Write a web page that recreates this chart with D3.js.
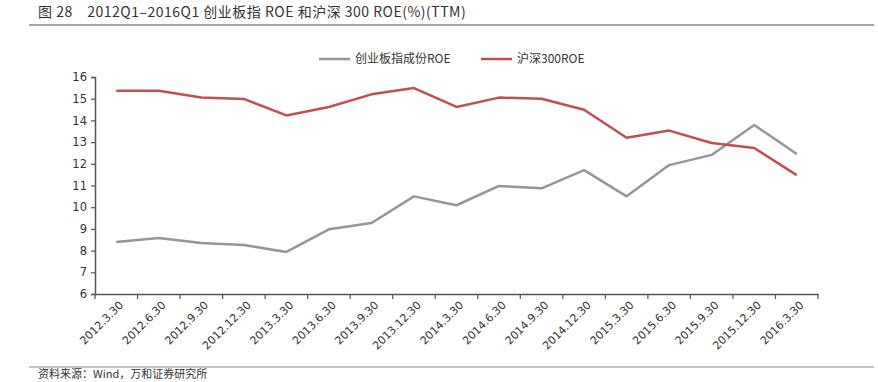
<!DOCTYPE html>
<html>
<head>
<meta charset="utf-8">
<script src="https://cdn.jsdelivr.net/npm/d3@7"></script>
<style>
  body { margin: 0; background: #fff; }
  svg { display: block; font-family: "Noto Sans CJK SC", "DejaVu Sans", sans-serif; }
</style>
</head>
<body>
<svg id="chart" width="878" height="382"></svg>
<script>
const categories = ["2012.3.30", "2012.6.30", "2012.9.30", "2012.12.30", "2013.3.30", "2013.6.30",
  "2013.9.30", "2013.12.30", "2014.3.30", "2014.6.30", "2014.9.30", "2014.12.30",
  "2015.3.30", "2015.6.30", "2015.9.30", "2015.12.30", "2016.3.30"];
// 创业板指成份ROE
const cybRoe = [8.40, 8.58, 8.35, 8.26, 7.94, 8.98, 9.27, 10.50, 10.09, 10.98, 10.87, 11.71,
  10.50, 11.94, 12.41, 13.79, 12.45];
// 沪深300ROE
const hs300Roe = [15.37, 15.37, 15.06, 14.99, 14.23, 14.62, 15.20, 15.49, 14.62, 15.05, 15.00, 14.49,
  13.20, 13.53, 12.96, 12.73, 11.48];
const yTicks = [6, 7, 8, 9, 10, 11, 12, 13, 14, 15, 16];
const seriesNames = ["创业板指成份ROE", "沪深300ROE"];
const colors = ["#969696", "#C0504D"];

const svg = d3.select("#chart");
const margin = { left: 95, right: 60, top: 77, bottom: 88 };
const width = 878 - margin.left - margin.right;
const height = 382 - margin.top - margin.bottom;

// 标题
svg.append("text")
   .attr("x", 38).attr("y", 17)
   .style("font-size", "14px").style("fill", "#333")
   .style("letter-spacing", "0.5px")
   .style("white-space", "pre")
   .text("图 28    2012Q1–2016Q1 创业板指 ROE 和沪深 300 ROE(%)(TTM)");
svg.append("line")
   .attr("x1", 29).attr("x2", 874).attr("y1", 25).attr("y2", 25)
   .attr("stroke", "#888").attr("stroke-width", 1.5);

// 底部来源
svg.append("line")
   .attr("x1", 29).attr("x2", 874).attr("y1", 367).attr("y2", 367)
   .attr("stroke", "#888").attr("stroke-width", 1);
svg.append("text")
   .attr("x", 38).attr("y", 378)
   .style("font-size", "11px").style("fill", "#333")
   .text("资料来源：Wind，万和证券研究所");

const chart = svg.append("g").attr("transform", `translate(${margin.left},${margin.top})`);

const xScale = d3.scaleBand().domain(categories).range([0, width]);
const yScale = d3.scaleLinear().domain([6, 16]).range([height, 0]);

// 坐标轴
const yAxis = chart.append("g")
  .call(d3.axisLeft(yScale).tickValues(yTicks).tickSize(4).tickPadding(4));
const xAxis = chart.append("g")
  .attr("transform", `translate(0,${height})`)
  .call(d3.axisBottom(xScale).tickSize(0).tickFormat(""));

// x轴刻度在分类边界
const bounds = categories.map(c => xScale(c)).concat([width]);
xAxis.selectAll(".bound")
  .data(bounds).enter().append("line")
  .attr("x1", d => d).attr("x2", d => d).attr("y1", 0).attr("y2", 5)
  .attr("stroke", "#555").attr("stroke-width", 1.2);

[yAxis, xAxis].forEach(a => {
  a.select(".domain").attr("stroke", "#555").attr("stroke-width", 1.5);
  a.selectAll(".tick line").attr("stroke", "#555").attr("stroke-width", 1.2);
  a.selectAll("text").style("font-size", "12px").style("fill", "#333")
   .style("font-family", "'DejaVu Sans', sans-serif");
});
yAxis.selectAll("text").style("font-size", "11.5px");

// x轴标签旋转
chart.append("g")
  .selectAll("text")
  .data(categories).enter().append("text")
  .attr("transform", d => `translate(${xScale(d) + xScale.bandwidth() / 2 + 5},${height + 9}) rotate(-45)`)
  .attr("text-anchor", "end")
  .attr("dy", "0.35em")
  .style("font-size", "11px").style("fill", "#333")
  .style("font-family", "'DejaVu Sans', sans-serif")
  .text(d => d);

// 折线
const line = d3.line()
  .x((_, i) => xScale(categories[i]) + xScale.bandwidth() / 2)
  .y(d => yScale(d));

[cybRoe, hs300Roe].forEach((s, i) => {
  chart.append("path")
    .datum(s)
    .attr("fill", "none")
    .attr("stroke", colors[i])
    .attr("stroke-width", 2.5)
    .attr("stroke-linejoin", "round")
    .attr("d", line);
});

// 图例
const legendX = [319, 481];
seriesNames.forEach((name, i) => {
  const g = svg.append("g").attr("transform", `translate(${legendX[i]},59)`);
  g.append("line").attr("x1", 0).attr("x2", 31).attr("y1", 0).attr("y2", 0)
   .attr("stroke", colors[i]).attr("stroke-width", 2.5);
  g.append("text").attr("x", 36).attr("dy", "0.35em")
   .style("font-size", "12px").style("fill", "#333")
   .text(name);
});
</script>
</body>
</html>
